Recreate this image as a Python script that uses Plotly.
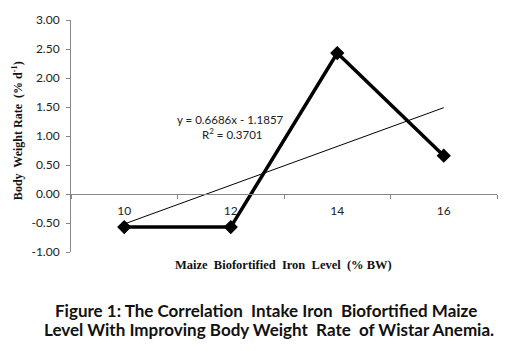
import plotly.graph_objects as go

# Data
categories = ["10", "12", "14", "16"]
body_weight_rate = [-0.57, -0.57, 2.43, 0.66]
trend_slope = 0.6686
trend_intercept = -1.1857
y_ticks = [-1.0, -0.5, 0.0, 0.5, 1.0, 1.5, 2.0, 2.5, 3.0]
y_tick_labels = ["-1.00", "-0.50", "0.00", "0.50", "1.00", "1.50", "2.00", "2.50", "3.00"]

trend_y = [trend_slope * (i + 1) + trend_intercept for i in range(len(categories))]

W, H = 513, 351
L, R, T, B = 71, 16, 14, 99
pw, ph = W - L - R, H - T - B
ymin, ymax = -1.0, 3.0

def px_x(x):
    return (x - L) / pw

def px_y(y):
    return (H - B - y) / ph

def label(text, x, y, family, size, color="#111", angle=0):
    return dict(text=text, xref="paper", yref="paper", x=px_x(x), y=px_y(y),
                xanchor="center", yanchor="middle", showarrow=False,
                textangle=angle, font=dict(family=family, size=size, color=color))

fig = go.Figure()
fig.add_trace(go.Scatter(
    x=categories, y=trend_y, mode="lines",
    line=dict(color="black", width=1), showlegend=False, hoverinfo="skip"))
fig.add_trace(go.Scatter(
    x=categories, y=body_weight_rate, mode="lines+markers",
    line=dict(color="black", width=3.5),
    marker=dict(symbol="diamond", size=11, color="black"),
    showlegend=False))

zero_frac = (0 - ymin) / (ymax - ymin)

fig.update_layout(
    width=W, height=H,
    margin=dict(l=L, r=R, t=T, b=B),
    plot_bgcolor="white", paper_bgcolor="white",
    font=dict(family="Lato", color="#222"),
    xaxis=dict(
        type="category", categoryorder="array", categoryarray=categories,
        range=[-0.5, len(categories) - 0.5],
        anchor="free", position=zero_frac,
        showline=True, linecolor="#868686", linewidth=1,
        ticks="outside", ticklen=4, tickcolor="#868686", tickson="boundaries",
        ticklabelstandoff=6,
        showgrid=False, zeroline=False,
        tickfont=dict(family="Lato", size=12, color="#222"),
    ),
    yaxis=dict(
        range=[ymin, ymax], tickvals=y_ticks, ticktext=y_tick_labels,
        showline=True, linecolor="#868686", linewidth=1,
        ticks="outside", ticklen=4, tickcolor="#868686",
        ticklabelstandoff=4,
        showgrid=False, zeroline=False,
        tickfont=dict(family="Lato", size=12, color="#222"),
    ),
    annotations=[
        label("y = 0.6686x - 1.1857", 230, 116, "Lato", 11.5, "#222"),
        label("R<sup>2</sup> = 0.3701", 232, 130, "Lato", 11.5, "#222"),
        label("<b>Body  Weight Rate  (% d<sup>-1</sup>)</b>", 17, 128,
              "Liberation Serif", 12, angle=-90),
        label("<b>Maize  Biofortified  Iron  Level  (% BW)</b>", 283, 265,
              "Liberation Serif", 12.5),
        label("<b>Figure 1: The Correlation  Intake Iron  Biofortified Maize</b>",
              266, 312, "Lato", 17),
        label("<b>Level With Improving Body Weight  Rate  of Wistar Anemia.</b>",
              269, 332, "Lato", 17),
    ],
)

fig.write_html("out.html")
